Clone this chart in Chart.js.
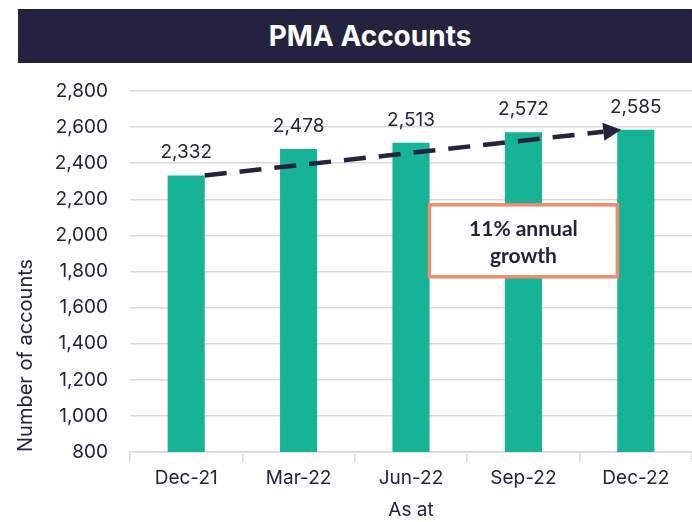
<!DOCTYPE html>
<html>
<head>
<meta charset="utf-8">
<script src="https://cdn.jsdelivr.net/npm/chart.js@4"></script>
<style>
  body { margin: 0; background: #fff; }
  #wrap { position: relative; width: 692px; height: 522px; }
  #title {
    position: absolute; left: 18px; top: 9px; width: 644px; height: 54px; padding-left: 30px;
    background: #23233f; color: #fff; font: bold 28px Inter, "Noto Sans", sans-serif;
    display: flex; align-items: center; justify-content: center;
  }
  canvas { position: absolute; left: 0; top: 0; }
</style>
</head>
<body>
<div id="wrap">
  <canvas id="chart" width="692" height="522"></canvas>
  <div id="title">PMA Accounts</div>
</div>
<script>
// categories and values
const labels = ["Dec-21", "Mar-22", "Jun-22", "Sep-22", "Dec-22"];
const accounts = [2332, 2478, 2513, 2572, 2585];
const yTicks = [800, 1000, 1200, 1400, 1600, 1800, 2000, 2200, 2400, 2600, 2800];
// annotation
const noteLines = ["11% annual", "growth"];
const noteAt = { index: 3, value: 1970 };

const navy = '#23233f';
const teal = '#16b396';
const coral = '#f4896d';
const grid = '#d9d9d9';
const font = 'Inter, "Noto Sans", sans-serif';

const fmt = v => v.toLocaleString('en-US');

// data labels, dashed growth arrow, note box
const extras = {
  id: 'extras',
  afterDatasetsDraw(chart) {
    const ctx = chart.ctx;
    const meta = chart.getDatasetMeta(0);
    const x = chart.scales.x, y = chart.scales.y;

    ctx.save();
    ctx.fillStyle = navy;
    ctx.font = '19px ' + font;
    ctx.textAlign = 'center';
    ctx.textBaseline = 'middle';
    meta.data.forEach((bar, i) => {
      ctx.fillText(fmt(accounts[i]), bar.x, bar.y - 23);
    });

    // arrow from first bar top to last bar top
    const first = meta.data[0], last = meta.data[meta.data.length - 1];
    const x0 = first.x + first.width / 2, y0 = first.y;
    const x1 = last.x - last.width / 2 + 4, y1 = last.y;
    const ang = Math.atan2(y1 - y0, x1 - x0);
    const headLen = 18, headW = 9;
    const bx = x1 - headLen * Math.cos(ang), by = y1 - headLen * Math.sin(ang);
    ctx.strokeStyle = navy;
    ctx.lineWidth = 4.5;
    ctx.setLineDash([22, 13]);
    ctx.beginPath();
    ctx.moveTo(x0, y0);
    ctx.lineTo(bx, by);
    ctx.stroke();
    ctx.setLineDash([]);
    ctx.beginPath();
    ctx.moveTo(x1, y1);
    ctx.lineTo(bx + headW * Math.sin(ang), by - headW * Math.cos(ang));
    ctx.lineTo(bx - headW * Math.sin(ang), by + headW * Math.cos(ang));
    ctx.closePath();
    ctx.fill();

    // note box
    const cx = x.getPixelForValue(noteAt.index), cy = y.getPixelForValue(noteAt.value);
    const w = 188, h = 72;
    ctx.fillStyle = '#fff';
    ctx.fillRect(cx - w / 2, cy - h / 2, w, h);
    ctx.strokeStyle = coral;
    ctx.lineWidth = 3.5;
    ctx.strokeRect(cx - w / 2, cy - h / 2, w, h);
    ctx.fillStyle = navy;
    ctx.font = 'bold 21px Lato, "Open Sans", sans-serif';
    ctx.fillText(noteLines[0], cx, cy - 12);
    ctx.fillText(noteLines[1], cx, cy + 15);
    ctx.restore();
  }
};

new Chart(document.getElementById('chart'), {
  type: 'bar',
  data: {
    labels: labels,
    datasets: [{
      data: accounts,
      backgroundColor: teal,
      categoryPercentage: 1,
      barPercentage: 0.33
    }]
  },
  options: {
    responsive: false,
    animation: false,
    layout: { padding: { top: 91, right: 0, left: 0, bottom: 0 } },
    plugins: { legend: { display: false }, tooltip: { enabled: false } },
    scales: {
      x: {
        afterFit: s => { s.height = 70; },
        grid: { drawOnChartArea: false, drawTicks: true, tickLength: 10, color: grid, lineWidth: 1.5 },
        border: { color: grid, width: 1.5 },
        ticks: { color: navy, font: { family: font, size: 19 }, padding: 5 },
        title: { display: true, text: 'As at', color: navy, font: { family: font, size: 19 }, padding: { top: 0, bottom: 0 } }
      },
      y: {
        min: 800, max: 2800,
        afterFit: s => { s.width = 130; },
        afterBuildTicks: s => { s.ticks = yTicks.map(v => ({ value: v })); },
        grid: { drawTicks: false, color: grid, lineWidth: 1.5 },
        border: { display: false },
        ticks: { color: navy, font: { family: font, size: 19 }, padding: 22, callback: v => fmt(v) },
        title: { display: true, text: 'Number of accounts', align: 'start', color: navy, font: { family: font, size: 20 }, padding: { top: 14, bottom: 0 } }
      }
    }
  },
  plugins: [extras]
});
</script>
</body>
</html>
